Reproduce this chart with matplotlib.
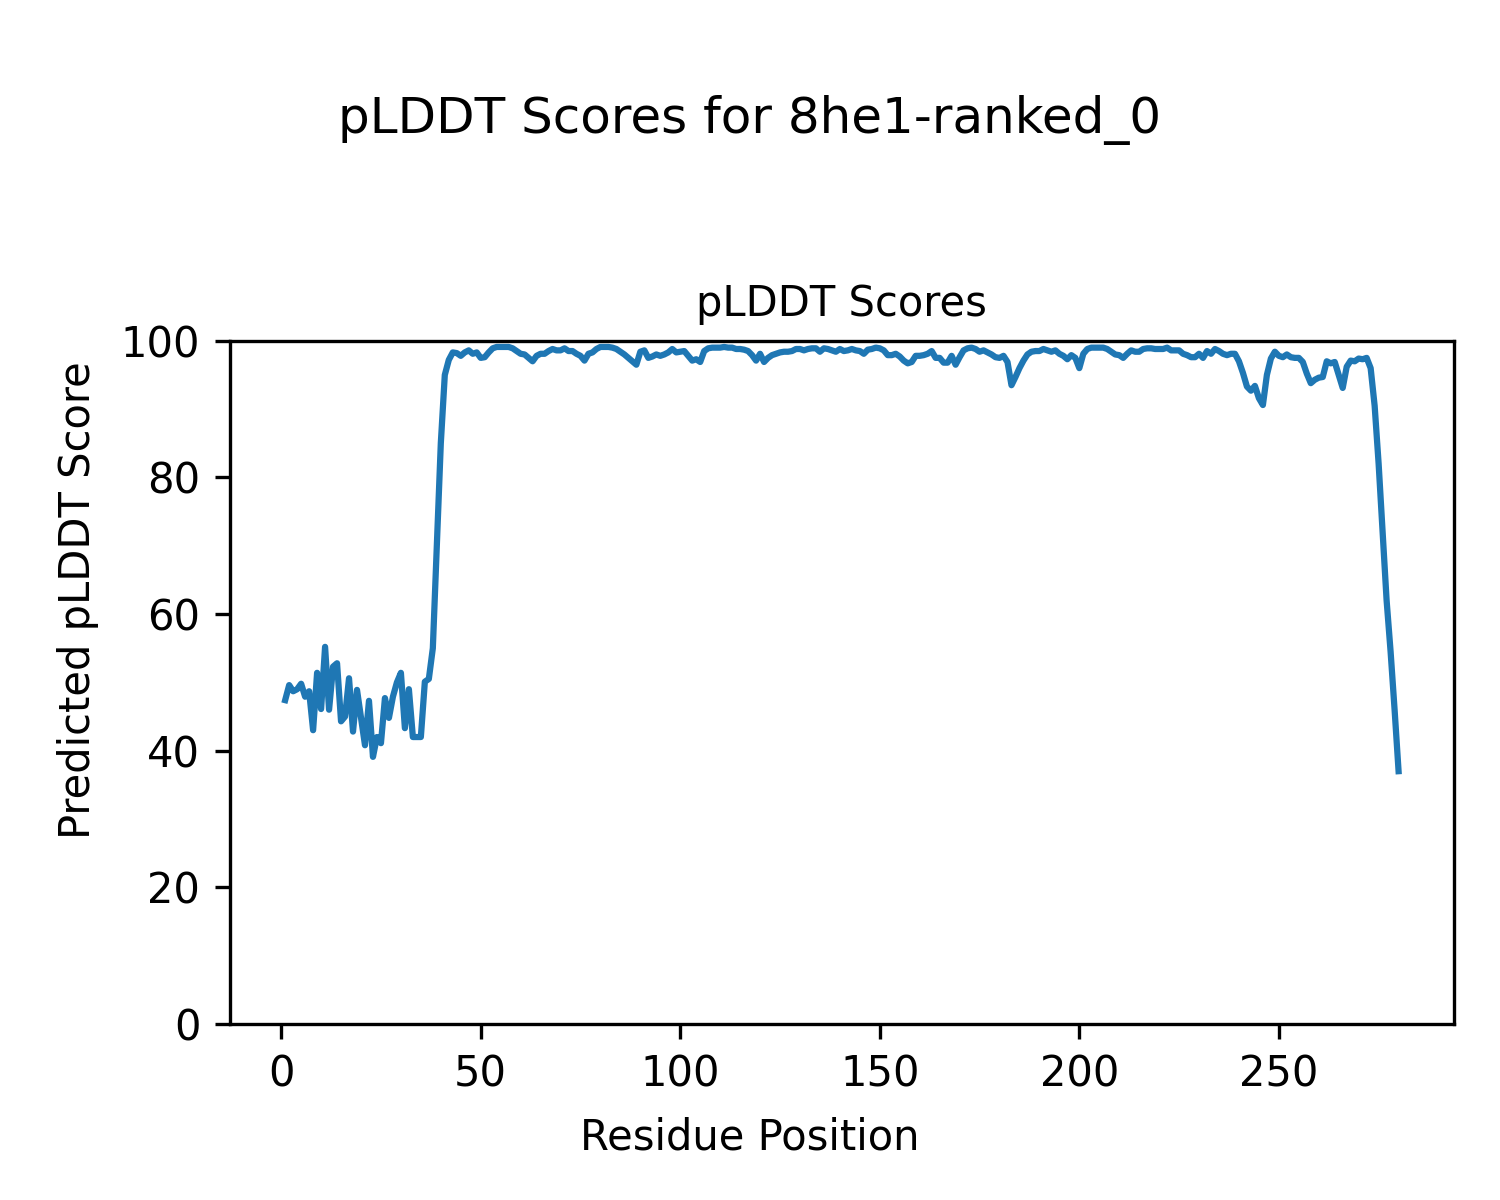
import numpy as np
import matplotlib.pyplot as plt

# per-residue pLDDT values
plddt = [
    47.4, 49.6, 48.7, 49.0, 49.8, 47.9, 48.7, 43.0, 51.4, 46.1,
    55.2, 46.0, 52.3, 52.8, 44.3, 45.0, 50.6, 42.8, 48.9, 44.8,
    40.8, 47.3, 39.1, 42.0, 41.1, 47.7, 44.8, 47.9, 50.0, 51.4,
    43.3, 49.0, 42.0, 42.0, 42.0, 50.1, 50.5, 55.0, 70.0, 85.0,
    95.0, 97.2, 98.3, 98.2, 97.8, 98.3, 98.6, 98.1, 98.3, 97.5,
    97.6, 98.3, 98.9, 99.1, 99.1, 99.1, 99.1, 98.9, 98.5, 98.1,
    98.0, 97.5, 97.0, 97.8, 98.1, 98.1, 98.5, 98.8, 98.6, 98.6,
    98.9, 98.5, 98.5, 98.1, 97.8, 97.1, 98.1, 98.3, 98.8, 99.1,
    99.1, 99.1, 99.0, 98.8, 98.4, 98.0, 97.5, 97.0, 96.5, 98.4,
    98.6, 97.5, 97.7, 98.0, 97.8, 98.0, 98.3, 98.8, 98.3, 98.4,
    98.5, 97.8, 97.1, 97.3, 96.9, 98.5, 98.9, 99.0, 99.0, 99.0,
    99.1, 99.0, 99.0, 98.8, 98.8, 98.7, 98.5, 97.9, 97.1, 98.1,
    96.9, 97.5, 97.9, 98.1, 98.3, 98.4, 98.4, 98.5, 98.8, 98.8,
    98.6, 98.8, 98.9, 98.9, 98.4, 98.9, 98.8, 98.6, 98.4, 98.8,
    98.5, 98.6, 98.8, 98.6, 98.5, 98.1, 98.7, 98.8, 99.0, 98.9,
    98.6, 97.9, 97.9, 98.1, 97.7, 97.1, 96.7, 96.9, 97.8, 97.8,
    97.9, 98.1, 98.5, 97.5, 97.5, 96.8, 96.8, 97.8, 96.5, 97.6,
    98.6, 98.9, 99.0, 98.8, 98.4, 98.6, 98.3, 98.0, 97.6, 97.5,
    97.8, 96.9, 93.5, 94.7, 96.0, 97.1, 98.0, 98.4, 98.5, 98.5,
    98.8, 98.6, 98.4, 98.6, 98.1, 97.8, 97.3, 97.9, 97.5, 96.0,
    98.1, 98.8, 99.0, 99.0, 99.0, 99.0, 98.8, 98.4, 98.0, 97.9,
    97.5, 98.1, 98.6, 98.4, 98.4, 98.8, 98.9, 98.9, 98.8, 98.8,
    98.8, 99.0, 98.6, 98.6, 98.6, 98.1, 97.9, 97.6, 97.6, 98.1,
    97.5, 98.5, 98.1, 98.8, 98.5, 98.1, 97.9, 98.1, 98.1, 97.0,
    95.3, 93.3, 92.7, 93.4, 91.6, 90.6, 95.0, 97.4, 98.4, 97.8,
    97.6, 98.0, 97.6, 97.5, 97.5, 96.9, 95.2, 93.8, 94.3, 94.6,
    94.7, 97.0, 96.7, 96.9, 95.0, 93.1, 96.2, 97.1, 97.0, 97.4,
    97.3, 97.5, 96.0, 90.5, 82.0, 72.0, 62.0, 54.5, 46.0, 37.0,
]
residues = np.arange(1, len(plddt) + 1)

fig = plt.figure(figsize=(5, 4), dpi=300)
ax = fig.add_axes([0.153, 0.1467, 0.8165, 0.5693])
ax.plot(residues, plddt, linewidth=1.5)
ax.set_ylim(0, 100)
ax.set_title("pLDDT Scores", fontsize=10)

fig.suptitle("pLDDT Scores for 8he1-ranked_0", y=0.921)
fig.supxlabel("Residue Position", fontsize=10, y=0.0517, va="center")
fig.supylabel("Predicted pLDDT Score", fontsize=10, x=0.052, ha="center")

fig.savefig("out.png", dpi=300)
